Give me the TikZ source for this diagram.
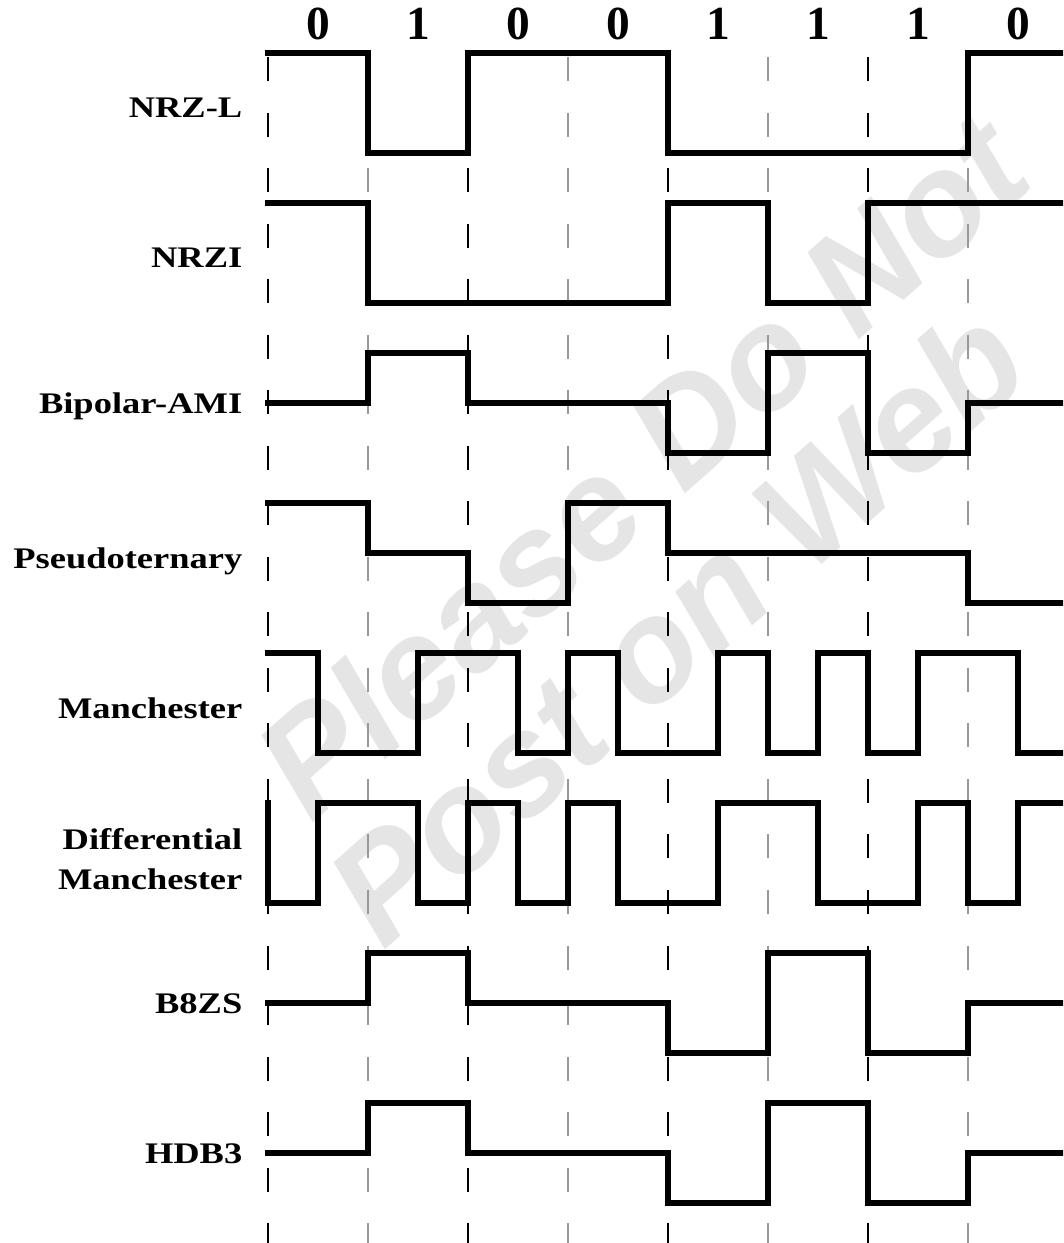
\documentclass[tikz,border=0pt]{standalone}
\usepackage{fontspec}
\setmainfont{Liberation Serif}
\newfontfamily\wmfont{Liberation Sans}
\begin{document}
\begin{tikzpicture}[x=0.01cm,y=-0.01cm,
  sig/.style={line width=0.65mm, line join=miter, line cap=rect},
  gridmain/.style={line width=0.18mm, black, dash pattern=on 2.4mm off 3.15mm},
  gridsub/.style={line width=0.2mm, black!40, dash pattern=on 2.4mm off 3.15mm},
  lbl/.style={anchor=base east, inner sep=0pt, font=\bfseries\fontsize{8.5pt}{11.4pt}\selectfont},
  bitlbl/.style={anchor=base, inner sep=0pt, font=\bfseries\fontsize{13.5pt}{14pt}\selectfont},
  wm/.style={text=black!10, rotate=41.5, inner sep=0pt, font=\wmfont\bfseries\itshape\fontsize{41pt}{41pt}\selectfont}]
\useasboundingbox (0,0) rectangle (1063,1243);
\clip (0,0) rectangle (1063,1243);
\fill[white] (0,0) rectangle (1063,1243);
% watermark
\node[wm] (wm1) at (640,465) {Please Do Not};
\node[wm] (wm2) at (675,625) {Post on Web};
% grid
\foreach \k in {0,2,4,6} {
  \coordinate (gt\k) at (268+100*\k,57);
  \coordinate (gb\k) at (268+100*\k,1243);
  \draw[gridmain] (gt\k) -- (gb\k);
}
\foreach \k in {1,3,5,7} {
  \coordinate (gt\k) at (268+100*\k,57);
  \coordinate (gb\k) at (268+100*\k,1243);
  \draw[gridsub] (gt\k) -- (gb\k);
}
% bit labels
\foreach \b [count=\i from 0] in {0,1,0,0,1,1,1,0} {
  \node[bitlbl] (bit\i) at (318+100*\i,40) {\b};
}
% row labels
\node[lbl] (lnrzl) at (243,118) {\scalebox{1.22}[1]{NRZ-L}};
\node[lbl] (lnrzi) at (243,268) {\scalebox{1.22}[1]{NRZI}};
\node[lbl] (lami) at (243,413) {\scalebox{1.22}[1]{Bipolar-AMI}};
\node[lbl] (lpseudo) at (243,568) {\scalebox{1.22}[1]{Pseudoternary}};
\node[lbl] (lman) at (243,718) {\scalebox{1.22}[1]{Manchester}};
\node[lbl, anchor=north east, align=right] (ldman) at (243,828) {\scalebox{1.22}[1]{Differential}\\\scalebox{1.22}[1]{Manchester}};
\node[lbl] (lb8zs) at (243,1013) {\scalebox{1.22}[1]{B8ZS}};
\node[lbl] (lhdb3) at (243,1163) {\scalebox{1.22}[1]{HDB3}};
% signals
\draw[sig] (268,53) -- (368,53) -- (368,153) -- (468,153) -- (468,53) -- (668,53) -- (668,153) -- (968,153) -- (968,53) -- (1068,53);
\draw[sig] (268,203) -- (368,203) -- (368,303) -- (668,303) -- (668,203) -- (768,203) -- (768,303) -- (868,303) -- (868,203) -- (1068,203);
\draw[sig] (268,403) -- (368,403) -- (368,353) -- (468,353) -- (468,403) -- (668,403) -- (668,453) -- (768,453) -- (768,353) -- (868,353) -- (868,453) -- (968,453) -- (968,403) -- (1068,403);
\draw[sig] (268,503) -- (368,503) -- (368,553) -- (468,553) -- (468,603) -- (568,603) -- (568,503) -- (668,503) -- (668,553) -- (968,553) -- (968,603) -- (1068,603);
\draw[sig] (268,653) -- (318,653) -- (318,753) -- (418,753) -- (418,653) -- (518,653) -- (518,753) -- (568,753) -- (568,653) -- (618,653) -- (618,753) -- (718,753) -- (718,653) -- (768,653) -- (768,753) -- (818,753) -- (818,653) -- (868,653) -- (868,753) -- (918,753) -- (918,653) -- (1018,653) -- (1018,753) -- (1068,753);
\draw[sig] (268,803) -- (268,903) -- (318,903) -- (318,803) -- (418,803) -- (418,903) -- (468,903) -- (468,803) -- (518,803) -- (518,903) -- (568,903) -- (568,803) -- (618,803) -- (618,903) -- (718,903) -- (718,803) -- (818,803) -- (818,903) -- (918,903) -- (918,803) -- (968,803) -- (968,903) -- (1018,903) -- (1018,803) -- (1068,803);
\draw[sig] (268,1003) -- (368,1003) -- (368,953) -- (468,953) -- (468,1003) -- (668,1003) -- (668,1053) -- (768,1053) -- (768,953) -- (868,953) -- (868,1053) -- (968,1053) -- (968,1003) -- (1068,1003);
\draw[sig] (268,1153) -- (368,1153) -- (368,1103) -- (468,1103) -- (468,1153) -- (668,1153) -- (668,1203) -- (768,1203) -- (768,1103) -- (868,1103) -- (868,1203) -- (968,1203) -- (968,1153) -- (1068,1153);
\end{tikzpicture}
\end{document}
